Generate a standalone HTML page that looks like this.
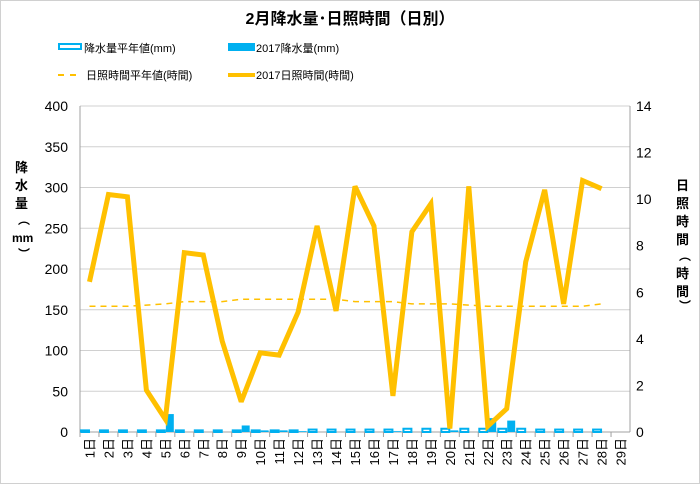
<!DOCTYPE html>
<html><head><meta charset="utf-8"><style>
body{margin:0;background:#fff}
svg{font-family:"Liberation Sans","Noto Sans CJK JP",sans-serif;display:block}
</style></head><body>
<svg id="c" width="700" height="484" viewBox="0 0 700 484">
<rect x="0.5" y="0.5" width="699" height="483" fill="#fff" stroke="#d0d0d0"/>
<text x="350" y="24" text-anchor="middle" font-size="16" font-weight="bold">2月降水量･日照時間（日別）</text>
<g font-size="11">
<rect x="59" y="44" width="22" height="5" fill="#fff" stroke="#00b0f0" stroke-width="2"/>
<text x="84" y="52">降水量平年値(mm)</text>
<rect x="228" y="43" width="27" height="8" fill="#00b0f0"/>
<text x="256" y="52">2017降水量(mm)</text>
<line x1="58" y1="75" x2="82" y2="75" stroke="#ffc000" stroke-width="2" stroke-dasharray="6,6"/>
<text x="86" y="79">日照時間平年値(時間)</text>
<line x1="228" y1="75" x2="255" y2="75" stroke="#ffc000" stroke-width="4"/>
<text x="256" y="79">2017日照時間(時間)</text>
</g>
<text transform="translate(22,172)" font-size="13" font-weight="bold"><tspan x="-7" y="0">降</tspan><tspan x="-7" y="18">水</tspan><tspan x="-7" y="36">量</tspan><tspan x="-4" y="52" font-size="12">︵</tspan><tspan x="-10" y="70" font-size="12">mm</tspan><tspan x="-4" y="86" font-size="12">︶</tspan></text>
<text transform="translate(683,190)" font-size="13" font-weight="bold"><tspan x="-7" y="0">日</tspan><tspan x="-7" y="18">照</tspan><tspan x="-7" y="36">時</tspan><tspan x="-7" y="54">間</tspan><tspan x="-4" y="70" font-size="12">︵</tspan><tspan x="-7" y="88">時</tspan><tspan x="-7" y="106">間</tspan><tspan x="-4" y="120" font-size="12">︶</tspan></text>
<g id="g"></g>
</svg>
<script>
const days=["1","2","3","4","5","6","7","8","9","10","11","12","13","14","15","16","17","18","19","20","21","22","23","24","25","26","27","28","29"];
const precipNormal=[2,2,2,2,2,2,2,2,2,2,2,2,3,3,3,3,3,4,4,4,4,4,4,4,3,3,3,3,null];
const precip2017=[0,0,0,0,22,0,0,0,8,2,2,1,0,0,0,0,1,0,0,2,0,17,14,0,0,0,0,0,null];
const sunNormal=[5.4,5.4,5.4,5.45,5.5,5.6,5.6,5.6,5.7,5.7,5.7,5.7,5.7,5.7,5.6,5.6,5.6,5.5,5.5,5.5,5.45,5.4,5.4,5.4,5.4,5.4,5.4,5.5];
const sun2017=[6.45,10.2,10.1,1.8,0.55,7.7,7.6,3.9,1.3,3.4,3.3,5.15,8.85,5.2,10.55,8.85,1.55,8.6,9.8,0.15,10.55,0.25,1.0,7.3,10.4,5.5,10.8,10.45];
const leftTicks=["0","50","100","150","200","250","300","350","400"];
const rightTicks=["0","2","4","6","8","10","12","14"];
const NS="http://www.w3.org/2000/svg";
const g=document.getElementById('g');
const L=80,R=630,T=106,B=432;
const cw=(R-L)/days.length;
const yL=v=>B-(v/400)*(B-T);
const yR=v=>B-(v/14)*(B-T);
const xC=i=>L+cw*(i+0.5);
function el(t,a){const e=document.createElementNS(NS,t);for(const k in a)e.setAttribute(k,a[k]);g.appendChild(e);return e;}
leftTicks.forEach((t,i)=>{const v=+t;const y=yL(v);
 const ln=el('line',{x1:L,x2:R,y1:y,y2:y,stroke:i==0?'#a0a0a0':'#d0d0d0','stroke-width':1});
 
 
 const tx=el('text',{x:68,y:y+5,'text-anchor':'end','font-size':14});tx.textContent=t;
 
 
});
rightTicks.forEach(t=>{const y=yR(+t);
 const tx=el('text',{x:636,y:y+5,'font-size':14});tx.textContent=t;
 
 
});
const ax=el('line',{x1:L,x2:L,y1:T,y2:B,stroke:'#a0a0a0'});


const ax2=el('line',{x1:R,x2:R,y1:T,y2:B,stroke:'#a0a0a0'});


const bw=cw*0.42;
days.forEach((d,i)=>{
 const c=xC(i);
 if(precipNormal[i]!=null){const v=precipNormal[i];
  const r=el('rect',{x:c-bw-0.5,y:yL(v),width:bw,height:B-yL(v),fill:'#fff',stroke:'#00b0f0','stroke-width':2});
  
  }
 if(precip2017[i]){const v=precip2017[i];
  const r=el('rect',{x:c+0.5,y:yL(v),width:bw,height:B-yL(v),fill:'#00b0f0'});
  
  }
 const tk=el('line',{x1:L+cw*i,x2:L+cw*i,y1:B,y2:B+5,stroke:'#a0a0a0'});
 
 
 const tx=el('text',{x:0,y:0,'text-anchor':'end','font-size':13,transform:`translate(${c+5},${438}) rotate(-90)`});
 tx.textContent=d+'日';
 
 
});
const pn=el('polyline',{points:sunNormal.map((v,i)=>xC(i)+','+yR(v)).join(' '),fill:'none',stroke:'#ffc000','stroke-width':1.5,'stroke-dasharray':'6,5'});


const ps=el('polyline',{points:sun2017.map((v,i)=>xC(i)+','+yR(v)).join(' '),fill:'none',stroke:'#ffc000','stroke-width':5,'stroke-linejoin':'miter','stroke-miterlimit':3});


</script>
</body></html>
